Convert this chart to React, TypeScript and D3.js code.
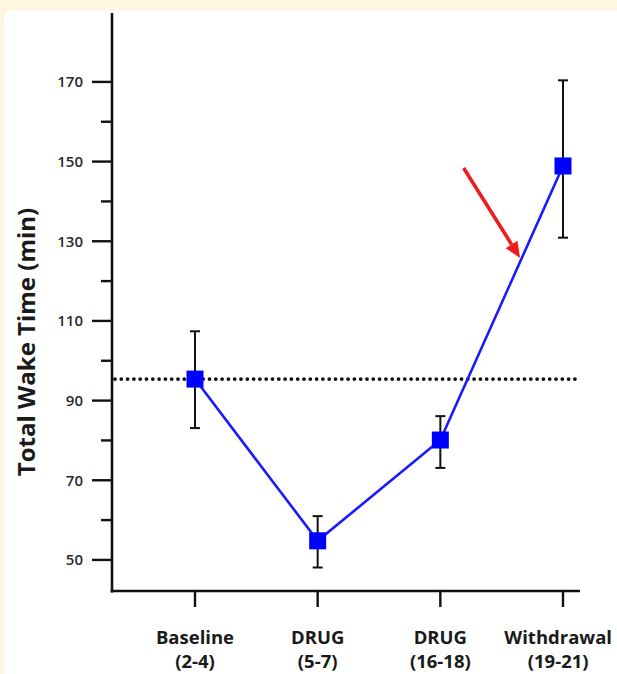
import {useEffect, useRef} from "react";
import * as d3 from "d3";

const WIDTH = 617;
const HEIGHT = 674;

// groups (two-line labels)
const groupNames = ["Baseline", "DRUG", "DRUG", "Withdrawal"];
const groupDays = ["(2-4)", "(5-7)", "(16-18)", "(19-21)"];

// total wake time (min): mean, upper and lower end of the error bar
const meanWake = [95.4, 54.8, 80.1, 148.9];
const upperWake = [107.4, 61.0, 86.1, 170.4];
const lowerWake = [83.1, 48.1, 73.1, 130.9];

// dotted reference line = baseline level
const referenceLevel = 95.4;

// y axis ticks
const majorTicks = [50, 70, 90, 110, 130, 150, 170];
const minorTicks = [60, 80, 100, 120, 140, 160];

// red arrow annotation, in (group index, minutes)
const arrowFrom = [2.19, 148.4];
const arrowTo = [2.65, 125.8];

const margin = {top: 13, right: 27, bottom: 83, left: 112};

export default function App() {
    const svgRef = useRef<SVGSVGElement>(null);

    useEffect(() => {
        document.body.style.margin = "0";
        document.body.style.background = "#fdf7e2";

        const svg = d3.select(svgRef.current);
        svg.selectAll("*").remove();

        const x0 = margin.left;
        const x1 = WIDTH - margin.right;
        const yBottom = HEIGHT - margin.bottom;

        const y = d3.scaleLinear().domain([42.2, 187.3]).range([yBottom, margin.top]);
        const x = d3.scaleLinear().domain([0, groupNames.length - 1]).range([195, 563]);

        // panel background
        svg.append("rect")
            .attr("x", 4).attr("y", 10)
            .attr("width", WIDTH + 20).attr("height", HEIGHT + 20)
            .attr("rx", 9)
            .attr("fill", "#ffffff");

        // y axis
        const yAxis = svg.append("g");
        yAxis.append("line")
            .attr("x1", x0).attr("x2", x0)
            .attr("y1", margin.top).attr("y2", yBottom + 1.5)
            .attr("stroke", "#111").attr("stroke-width", 2.6);
        yAxis.selectAll("line.major")
            .data(majorTicks)
            .join("line")
            .attr("class", "major")
            .attr("x1", x0 - 20).attr("x2", x0)
            .attr("y1", (d) => y(d)).attr("y2", (d) => y(d))
            .attr("stroke", "#111").attr("stroke-width", 2.4);
        yAxis.selectAll("line.minor")
            .data(minorTicks)
            .join("line")
            .attr("class", "minor")
            .attr("x1", x0 - 11).attr("x2", x0)
            .attr("y1", (d) => y(d)).attr("y2", (d) => y(d))
            .attr("stroke", "#111").attr("stroke-width", 2.4);
        yAxis.selectAll("text")
            .data(majorTicks)
            .join("text")
            .attr("x", x0 - 29)
            .attr("y", (d) => y(d))
            .attr("dy", "0.35em")
            .attr("text-anchor", "end")
            .attr("font-family", "'Open Sans', sans-serif")
            .attr("font-weight", 600)
            .attr("font-size", 15)
            .attr("fill", "#2a2a2a")
            .text((d) => d);

        svg.append("text")
            .attr("transform", `translate(35,${(margin.top + yBottom) / 2 + 40}) rotate(-90)`)
            .attr("text-anchor", "middle")
            .attr("font-family", "'Open Sans', sans-serif")
            .attr("font-weight", 700)
            .attr("font-size", 24)
            .attr("fill", "#1a1a1a")
            .text("Total Wake Time (min)");

        // x axis
        const xAxis = svg.append("g");
        xAxis.append("line")
            .attr("x1", x0 - 1.3).attr("x2", x1 - 10)
            .attr("y1", yBottom).attr("y2", yBottom)
            .attr("stroke", "#111").attr("stroke-width", 2.6);
        xAxis.selectAll("line.tick")
            .data(groupNames)
            .join("line")
            .attr("class", "tick")
            .attr("x1", (d, i) => x(i)).attr("x2", (d, i) => x(i))
            .attr("y1", yBottom).attr("y2", yBottom + 16)
            .attr("stroke", "#111").attr("stroke-width", 2.4);

        const labels = xAxis.selectAll("g.label")
            .data(groupNames)
            .join("g")
            .attr("class", "label")
            .attr("font-family", "'Open Sans', sans-serif")
            .attr("font-weight", 700)
            .attr("font-size", 18.5)
            .attr("fill", "#1a1a1a")
            .attr("text-anchor", "middle");
        labels.append("text")
            .attr("y", yBottom + 53)
            .text((d) => d);
        labels.append("text")
            .attr("y", yBottom + 77)
            .text((d, i) => groupDays[i]);
        // keep labels inside the panel
        labels.each(function (d, i) {
            const w = Math.max(...Array.from((this as SVGGElement).querySelectorAll("text"))
                .map((t) => (t as SVGTextElement).getComputedTextLength()));
            const cx = Math.min(x(i), WIDTH - 5 - w / 2);
            d3.select(this).selectAll("text").attr("x", cx);
        });

        // dotted reference line
        svg.append("line")
            .attr("x1", x0 + 3).attr("x2", x1 - 14)
            .attr("y1", y(referenceLevel)).attr("y2", y(referenceLevel))
            .attr("stroke", "#111")
            .attr("stroke-width", 3.8)
            .attr("stroke-linecap", "round")
            .attr("stroke-dasharray", "0 6.3");

        // error bars
        const bars = svg.append("g").attr("stroke", "#111").attr("stroke-width", 2);
        bars.selectAll("line.bar")
            .data(meanWake)
            .join("line")
            .attr("class", "bar")
            .attr("x1", (d, i) => x(i)).attr("x2", (d, i) => x(i))
            .attr("y1", (d, i) => y(upperWake[i])).attr("y2", (d, i) => y(lowerWake[i]));
        bars.selectAll("line.capU")
            .data(upperWake)
            .join("line")
            .attr("class", "capU")
            .attr("x1", (d, i) => x(i) - 5).attr("x2", (d, i) => x(i) + 5)
            .attr("y1", (d) => y(d)).attr("y2", (d) => y(d));
        bars.selectAll("line.capL")
            .data(lowerWake)
            .join("line")
            .attr("class", "capL")
            .attr("x1", (d, i) => x(i) - 5).attr("x2", (d, i) => x(i) + 5)
            .attr("y1", (d) => y(d)).attr("y2", (d) => y(d));

        // connecting line
        const line = d3.line<number>()
            .x((d, i) => x(i))
            .y((d) => y(d));
        svg.append("path")
            .datum(meanWake)
            .attr("d", line)
            .attr("fill", "none")
            .attr("stroke", "#1a1aff")
            .attr("stroke-width", 2.6);

        // square markers
        const size = 17;
        svg.selectAll("rect.marker")
            .data(meanWake)
            .join("rect")
            .attr("class", "marker")
            .attr("x", (d, i) => x(i) - size / 2)
            .attr("y", (d) => y(d) - size / 2)
            .attr("width", size).attr("height", size)
            .attr("fill", "#0000ff");

        // red arrow
        const ax0 = x(arrowFrom[0]), ay0 = y(arrowFrom[1]);
        const ax1 = x(arrowTo[0]), ay1 = y(arrowTo[1]);
        const ang = Math.atan2(ay1 - ay0, ax1 - ax0);
        const headLen = 16, headW = 7;
        const bx = ax1 - headLen * Math.cos(ang), by = ay1 - headLen * Math.sin(ang);
        svg.append("line")
            .attr("x1", ax0).attr("y1", ay0)
            .attr("x2", bx).attr("y2", by)
            .attr("stroke", "#ee1c1c")
            .attr("stroke-width", 3.6);
        const px = -Math.sin(ang), py = Math.cos(ang);
        svg.append("path")
            .attr("d", `M${ax1},${ay1}L${bx + headW * px},${by + headW * py}L${bx - headW * px},${by - headW * py}Z`)
            .attr("fill", "#ee1c1c");
    }, []);

    return (
        <svg ref={svgRef} width={WIDTH} height={HEIGHT} style={{display: "block"}} />
    );
}
